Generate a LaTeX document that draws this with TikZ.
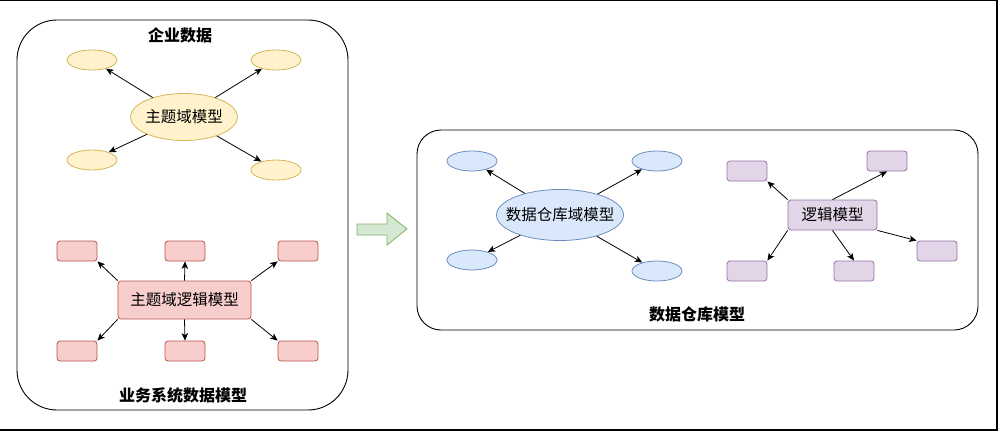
\documentclass[tikz,border=0pt]{standalone}
\usepackage{fontspec}
\newfontfamily\cjk{Noto Sans CJK SC}
\usetikzlibrary{shapes.geometric,arrows.meta}
\definecolor{yelF}{HTML}{FFF2CC}\definecolor{yelS}{HTML}{D6B656}
\definecolor{redF}{HTML}{F8CECC}\definecolor{redS}{HTML}{B85450}
\definecolor{bluF}{HTML}{DAE8FC}\definecolor{bluS}{HTML}{6C8EBF}
\definecolor{purF}{HTML}{E1D5E7}\definecolor{purS}{HTML}{9673A6}
\definecolor{grnF}{HTML}{D5E8D4}\definecolor{grnS}{HTML}{82B366}
\newcommand{\zw}[1]{\makebox[0pt][c]{#1}}
\begin{document}
\begin{tikzpicture}[x=1pt,y=-1pt,
  font=\cjk\fontsize{15.5}{18}\selectfont,
  arr/.style={-{Stealth[length=7.5pt,width=6.5pt,inset=2pt]}, line width=0.8pt, draw=black},
  yel/.style={ellipse, draw=yelS, fill=yelF, line width=0.8pt, minimum width=50pt, minimum height=20pt, inner sep=0pt},
  blu/.style={ellipse, draw=bluS, fill=bluF, line width=0.8pt, minimum width=50pt, minimum height=20pt, inner sep=0pt},
  redbox/.style={rectangle, rounded corners=3pt, draw=redS, fill=redF, line width=0.8pt, minimum width=40pt, minimum height=20pt, inner sep=0pt},
  purbox/.style={rectangle, rounded corners=3pt, draw=purS, fill=purF, line width=0.8pt, minimum width=40pt, minimum height=20pt, inner sep=0pt},
  container/.style={draw=black, line width=0.9pt, inner sep=0pt},
  title/.style={font=\cjk\bfseries\fontsize{16}{19}\selectfont, inner sep=0pt}
]
\useasboundingbox (0,0) rectangle (1001,431);
% outer frame
\draw[line width=1.3pt] (0,0.65) -- (997,0.65);
\draw[line width=2pt] (996.5,0) -- (996.5,430) -- (0,430);

% containers
\node (leftbox) [container, rounded corners=40pt, minimum width=331pt, minimum height=390pt] at (182.5,215) {};
\node (rightbox) [container, rounded corners=24pt, minimum width=561pt, minimum height=200pt] at (697.5,230) {};

% titles
\node (t1) [title] at (180,35) {企业数据};
\node (t2) [title] at (183,395) {业务系统数据模型};
\node (t3) [title] at (697,314) {数据仓库模型};

% subject domain model (yellow)
\node (sdm) [yel, minimum width=107pt, minimum height=47pt] at (184,117) {\zw{主题域模型}};
\node (y1) [yel] at (92,60) {};
\node (y2) [yel] at (276,60) {};
\node (y3) [yel] at (92,160) {};
\node (y4) [yel] at (276,170) {};
\draw[arr] (sdm) -- (y1);
\draw[arr] (sdm) -- (y2);
\draw[arr] (sdm) -- (y3);
\draw[arr] (sdm) -- (y4);

% subject domain logic model (red)
\node (sdl) [redbox, minimum width=133pt, minimum height=38pt] at (184.5,300) {主题域逻辑模型};
\node (r1) [redbox] at (77,251) {};
\node (r2) [redbox] at (185,251) {};
\node (r3) [redbox] at (298,251) {};
\node (r4) [redbox] at (77,351) {};
\node (r5) [redbox] at (185,351) {};
\node (r6) [redbox] at (298,351) {};
\draw[arr] (sdl.north west) -- (r1.south east);
\draw[arr] (sdl.north) -- (r2.south);
\draw[arr] (sdl.north east) -- (r3.south west);
\draw[arr] (sdl.south west) -- (r4.north east);
\draw[arr] (sdl.south) -- (r5.north);
\draw[arr] (sdl.south east) -- (r6.north west);

% big arrow
\draw[fill=grnF, draw=grnS, line width=0.8pt] (357,224) -- (387,224) -- (387,213) -- (407,229) -- (387,245) -- (387,235) -- (357,235) -- cycle;

% data warehouse domain model (blue)
\node (dwm) [blu, minimum width=127pt, minimum height=51pt] at (560,215) {\zw{数据仓库域模型}};
\node (b1) [blu] at (472,161) {};
\node (b2) [blu] at (657,161) {};
\node (b3) [blu] at (472,260) {};
\node (b4) [blu] at (657,271) {};
\draw[arr] (dwm) -- (b1);
\draw[arr] (dwm) -- (b2);
\draw[arr] (dwm) -- (b3);
\draw[arr] (dwm) -- (b4);

% logic model (purple)
\node (lm) [purbox, minimum width=89pt, minimum height=30pt] at (832.5,215) {逻辑模型};
\node (p1) [purbox] at (747,171) {};
\node (p2) [purbox] at (887,161) {};
\node (p3) [purbox] at (937,251) {};
\node (p4) [purbox] at (747,271) {};
\node (p5) [purbox] at (854,271) {};
\draw[arr] (lm.north west) -- (p1.south east);
\draw[arr] (lm.north) -- (p2.south);
\draw[arr] (lm.south east) -- (p3.north west);
\draw[arr] (lm.south west) -- (p4.north east);
\draw[arr] (lm.south) -- (p5.north);
\end{tikzpicture}
\end{document}
